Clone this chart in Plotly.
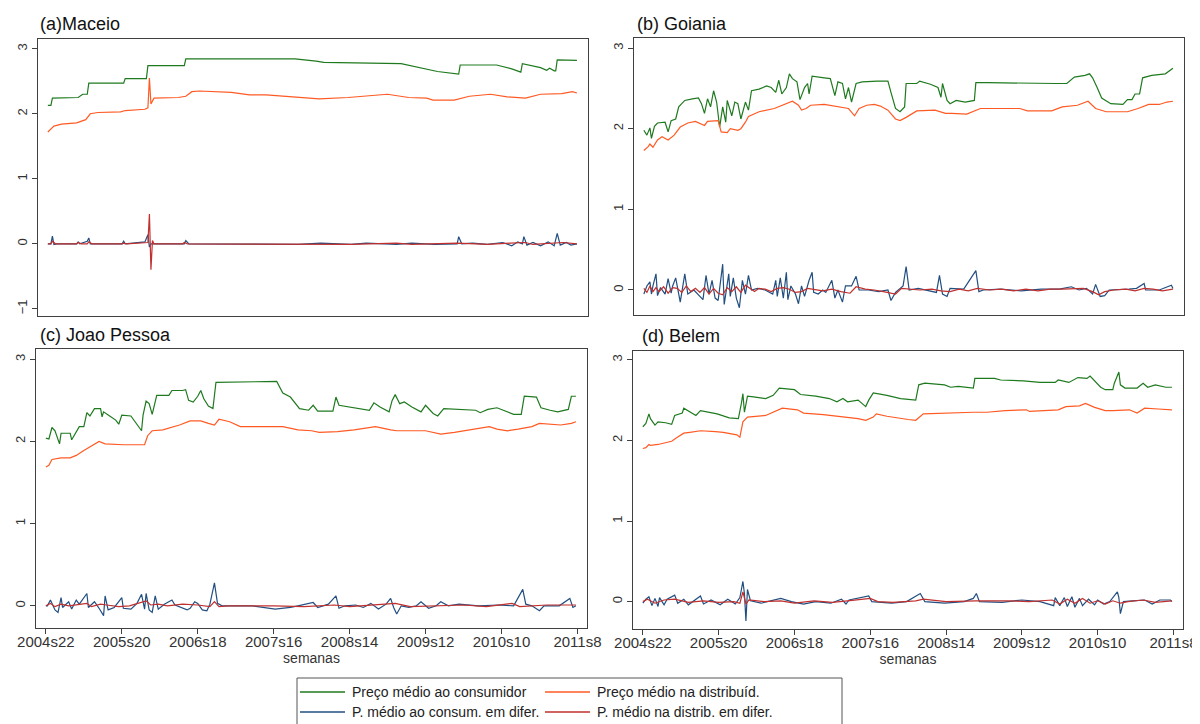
import plotly.graph_objects as go

# ---------------- data (week index 0 = 2004s22, 350 = 2011s8) ----------------
tick_weeks = [0, 50, 100, 150, 200, 250, 300, 350]
tick_labels = ["2004s22", "2005s20", "2006s18", "2007s16", "2008s14", "2009s12", "2010s10", "2011s8"]

# (a) Maceio
a_cons_w = [0, 2, 3, 20, 23, 26, 27, 50, 51, 65, 66, 90, 91, 163, 177, 182, 233, 257, 271, 272,
            296, 306, 312, 313, 325, 329, 331, 334, 335, 336, 349]
a_cons = [2.13, 2.13, 2.24, 2.25, 2.30, 2.30, 2.47, 2.47, 2.54, 2.54, 2.74, 2.74, 2.845, 2.845, 2.81, 2.79, 2.77, 2.65, 2.61, 2.75,
          2.75, 2.69, 2.64, 2.77, 2.71, 2.67, 2.70, 2.66, 2.66, 2.83, 2.82]
a_dist_w = [0, 4, 9, 19, 25, 28, 33, 48, 51, 64, 66, 67, 68, 70, 86, 91, 95, 100, 121, 133,
            144, 156, 163, 179, 198, 215, 224, 238, 250, 254, 268, 278, 292, 303, 315, 325, 339, 346, 349]
a_dist = [1.72, 1.81, 1.84, 1.86, 1.91, 2.00, 2.02, 2.03, 2.05, 2.07, 2.09, 2.55, 2.15, 2.24, 2.25, 2.27, 2.34, 2.35, 2.33, 2.29,
          2.29, 2.27, 2.26, 2.23, 2.25, 2.29, 2.30, 2.25, 2.24, 2.21, 2.21, 2.27, 2.30, 2.26, 2.24, 2.30, 2.31, 2.34, 2.32]
a_dcons_w = [0, 2, 3, 4, 6, 19, 20, 21, 26, 27, 28, 49, 50, 51, 64, 66, 67, 68, 90, 91,
             93, 165, 180, 200, 210, 230, 240, 255, 270, 271, 273, 280, 290, 300, 306, 310, 313, 314, 316, 320,
             325, 330, 334, 336, 338, 342, 345, 349]
a_dcons = [0, 0, 0.12, -0.01, 0, 0, 0.03, 0, 0.04, 0.09, 0, 0, 0.04, 0, 0.03, 0.14, -0.05, 0, 0, 0.05,
           0, -0.01, 0.01, -0.01, 0.01, -0.01, 0.01, -0.01, 0, 0.11, 0, 0.01, -0.01, 0.02, -0.03, 0.03, 0, 0.11, -0.02, 0.02,
           -0.03, 0.03, -0.03, 0.16, -0.02, 0.02, -0.02, 0]
a_ddist_w = [0, 2, 3, 5, 19, 20, 22, 26, 27, 29, 49, 50, 52, 64, 66, 67, 68, 69, 70, 89,
             90, 92, 200, 230, 240, 270, 290, 305, 315, 320, 330, 340, 349]
a_ddist = [0, 0, 0.04, 0, 0, 0.02, 0, 0, 0.03, 0, 0, 0.01, 0, 0.02, 0.02, 0.46, -0.40, 0.05, 0, 0,
           0.02, 0, -0.01, 0.01, -0.01, 0.01, -0.01, 0.01, 0.02, -0.01, 0.01, 0.02, 0]

# (b) Goiania
b_cons_w = [0, 2, 4, 5, 7, 9, 14, 16, 18, 21, 23, 27, 32, 36, 38, 40, 42, 44, 46, 48,
            50, 52, 54, 55, 58, 60, 62, 64, 67, 69, 71, 76, 81, 84, 87, 89, 91, 94, 96, 98,
            101, 103, 106, 108, 109, 111, 119, 123, 126, 128, 131, 133, 135, 137, 140, 144, 154, 161, 163, 166,
            169, 172, 173, 180, 182, 189, 194, 196, 197, 200, 202, 206, 212, 218, 219, 227, 272, 279, 284, 291,
            294, 296, 299, 302, 308, 316, 319, 322, 324, 327, 329, 335, 344, 349]
b_cons = [1.98, 1.92, 2.01, 1.88, 2.03, 2.07, 2.08, 1.96, 2.10, 2.12, 2.27, 2.35, 2.37, 2.38, 2.31, 2.19, 2.37, 2.27, 2.47, 2.33,
          2.02, 2.27, 2.08, 2.35, 2.16, 2.33, 2.31, 2.12, 2.33, 2.23, 2.47, 2.49, 2.53, 2.51, 2.45, 2.60, 2.43, 2.51, 2.68, 2.62,
          2.58, 2.36, 2.51, 2.56, 2.43, 2.65, 2.63, 2.62, 2.41, 2.58, 2.56, 2.37, 2.51, 2.33, 2.56, 2.58, 2.59, 2.59, 2.45, 2.25,
          2.21, 2.27, 2.56, 2.56, 2.59, 2.55, 2.51, 2.39, 2.56, 2.35, 2.31, 2.35, 2.33, 2.35, 2.57, 2.57, 2.56, 2.56, 2.64, 2.66,
          2.68, 2.63, 2.51, 2.38, 2.31, 2.30, 2.36, 2.36, 2.43, 2.43, 2.63, 2.66, 2.68, 2.75]
b_dist_w = [0, 3, 4, 6, 9, 12, 16, 20, 24, 29, 34, 40, 42, 49, 51, 55, 57, 62, 64, 67,
            69, 76, 86, 91, 95, 98, 102, 104, 107, 110, 119, 130, 135, 139, 142, 147, 152, 156, 161, 166,
            169, 173, 180, 192, 199, 203, 213, 222, 241, 248, 253, 269, 276, 286, 293, 298, 305, 319, 326, 333,
            340, 345, 349]
b_dist = [1.73, 1.78, 1.81, 1.77, 1.86, 1.90, 1.86, 1.92, 2.02, 2.07, 2.09, 2.04, 2.09, 2.10, 1.96, 1.95, 2.00, 1.98, 2.00, 2.08,
          2.15, 2.21, 2.25, 2.29, 2.32, 2.34, 2.29, 2.23, 2.25, 2.29, 2.30, 2.27, 2.25, 2.16, 2.25, 2.29, 2.30, 2.28, 2.23, 2.12,
          2.10, 2.14, 2.22, 2.23, 2.19, 2.19, 2.18, 2.25, 2.25, 2.25, 2.22, 2.22, 2.27, 2.29, 2.34, 2.25, 2.21, 2.21, 2.25, 2.30,
          2.30, 2.33, 2.34]
b_dcons_w = [0, 2, 4, 5, 6, 8, 9, 11, 14, 16, 18, 19, 21, 24, 27, 29, 33, 37, 39, 41,
             43, 45, 47, 49, 52, 53, 56, 57, 59, 61, 63, 65, 67, 69, 71, 75, 80, 85, 87, 88,
             90, 92, 94, 95, 97, 100, 102, 104, 106, 109, 111, 112, 115, 118, 120, 124, 126, 128, 131, 133,
             137, 140, 142, 148, 155, 161, 163, 166, 169, 171, 173, 175, 181, 186, 193, 195, 197, 200, 202, 211,
             219, 221, 224, 235, 249, 262, 274, 282, 287, 292, 296, 298, 301, 304, 307, 320, 325, 330, 331, 340,
             348, 349]
b_dcons = [-0.05, 0.05, 0.10, -0.05, 0.05, 0.20, -0.07, 0.03, -0.05, 0.14, -0.04, 0.05, 0.15, -0.15, 0.20, -0.05, 0.0, -0.08, -0.12, 0.18,
           -0.05, 0.12, -0.10, -0.13, 0.32, -0.18, 0.20, -0.08, 0.15, -0.10, -0.22, 0.12, -0.05, 0.18, 0.0, 0.02, 0.0, -0.05, 0.12, -0.08,
           0.15, -0.10, 0.22, -0.12, 0.05, -0.05, -0.17, 0.05, -0.08, 0.12, 0.22, -0.03, -0.05, 0.0, -0.03, 0.12, -0.10, 0.0, -0.15, 0.05,
           0.05, 0.17, 0.0, 0.0, -0.02, 0.0, -0.13, -0.03, 0.02, 0.05, 0.29, 0.0, 0.02, 0.0, -0.03, 0.18, -0.05, -0.08, 0.02, 0.01,
           0.24, -0.02, 0.0, 0.01, -0.01, 0.01, 0.01, 0.04, 0.0, 0.02, -0.05, 0.07, -0.08, -0.07, 0.0, 0.01, 0.02, 0.08, 0.0, 0.0,
           0.06, 0.02]
b_ddist_w = [0, 2, 4, 6, 8, 10, 13, 16, 19, 22, 25, 28, 31, 34, 37, 40, 43, 46, 49, 52,
             55, 58, 61, 64, 67, 70, 73, 76, 80, 84, 88, 92, 96, 100, 104, 108, 112, 118, 124, 130,
             136, 140, 146, 152, 158, 163, 166, 170, 176, 182, 190, 196, 202, 208, 214, 220, 228, 236, 244, 252,
             260, 268, 276, 284, 290, 296, 300, 304, 310, 318, 324, 330, 336, 342, 349]
b_ddist = [0.02, -0.03, 0.05, -0.02, 0.03, -0.02, 0.04, -0.04, 0.03, 0.02, -0.03, 0.05, -0.02, 0.02, -0.03, 0.03, -0.05, 0.02, -0.04, -0.06,
           0.03, -0.02, 0.04, -0.03, 0.06, 0.02, -0.02, 0.02, 0.01, -0.02, 0.02, 0.03, 0.01, -0.03, -0.02, 0.02, 0.01, -0.01, 0.01, -0.02,
           -0.04, 0.04, 0.01, 0.0, -0.02, -0.04, -0.05, 0.02, 0.01, 0.0, 0.01, -0.01, -0.02, 0.01, -0.01, 0.02, 0.0, 0.01, -0.01, 0.01,
           -0.01, 0.01, 0.01, 0.02, 0.02, -0.02, -0.06, -0.02, 0.0, 0.01, -0.01, 0.02, 0.01, -0.01, 0.01]

# (c) Joao Pessoa
c_cons_w = [0, 2, 4, 6, 9, 10, 16, 17, 22, 25, 27, 29, 32, 36, 37, 38, 42, 46, 48, 50,
            56, 60, 63, 64, 66, 68, 70, 73, 81, 83, 90, 92, 94, 97, 100, 102, 104, 107, 110, 112,
            133, 152, 156, 161, 167, 173, 176, 179, 189, 191, 193, 203, 213, 216, 220, 226, 228, 230, 233, 236,
            241, 247, 250, 255, 258, 262, 274, 283, 286, 291, 297, 302, 308, 313, 315, 323, 326, 332, 337, 344,
            346, 349]
c_cons = [2.04, 2.03, 2.17, 2.13, 1.97, 2.10, 2.10, 2.02, 2.18, 2.18, 2.35, 2.31, 2.40, 2.40, 2.30, 2.36, 2.31, 2.26, 2.21, 2.32,
          2.31, 2.20, 2.13, 2.32, 2.49, 2.46, 2.33, 2.56, 2.56, 2.62, 2.62, 2.63, 2.50, 2.48, 2.55, 2.62, 2.52, 2.43, 2.40, 2.72,
          2.73, 2.73, 2.59, 2.54, 2.40, 2.38, 2.44, 2.37, 2.37, 2.54, 2.44, 2.41, 2.38, 2.47, 2.42, 2.36, 2.50, 2.57, 2.46, 2.48,
          2.42, 2.36, 2.44, 2.34, 2.31, 2.40, 2.39, 2.38, 2.35, 2.39, 2.41, 2.37, 2.33, 2.33, 2.55, 2.54, 2.41, 2.38, 2.36, 2.39,
          2.55, 2.55]
c_dist_w = [0, 2, 4, 10, 16, 20, 25, 30, 35, 39, 51, 63, 65, 67, 70, 77, 81, 88, 95, 102,
            107, 111, 114, 121, 128, 138, 152, 156, 166, 175, 180, 192, 203, 217, 227, 231, 250, 260, 269, 278,
            292, 297, 304, 311, 320, 325, 339, 346, 349]
c_dist = [1.69, 1.71, 1.78, 1.80, 1.80, 1.83, 1.89, 1.95, 2.00, 1.97, 1.96, 1.96, 1.96, 2.07, 2.13, 2.14, 2.16, 2.20, 2.25, 2.25,
          2.22, 2.20, 2.27, 2.24, 2.18, 2.18, 2.18, 2.18, 2.14, 2.13, 2.11, 2.12, 2.14, 2.18, 2.14, 2.13, 2.13, 2.09, 2.11, 2.14,
          2.18, 2.15, 2.13, 2.15, 2.18, 2.22, 2.20, 2.22, 2.24]
c_dcons_w = [0, 1, 3, 6, 8, 10, 11, 15, 17, 20, 22, 27, 28, 32, 35, 38, 39, 41, 45, 48,
             50, 51, 56, 60, 63, 65, 66, 68, 70, 72, 74, 78, 83, 85, 93, 95, 98, 100, 103, 106,
             108, 111, 113, 116, 126, 136, 151, 156, 161, 166, 171, 176, 179, 186, 191, 193, 197, 204, 209, 214,
             219, 224, 227, 229, 231, 234, 239, 244, 247, 252, 257, 260, 265, 272, 285, 298, 308, 314, 316, 320,
             325, 328, 338, 345, 347, 349]
c_dcons = [0.0, 0.0, 0.07, -0.05, -0.08, 0.10, -0.02, 0.05, -0.04, 0.07, 0.02, 0.15, -0.02, 0.05, -0.03, -0.12, 0.12, -0.05, -0.02, 0.05,
           0.10, -0.03, -0.04, 0.03, 0.14, -0.04, 0.15, -0.05, -0.08, 0.12, -0.04, 0.02, 0.07, 0.01, -0.05, -0.03, 0.05, 0.03, -0.05, -0.06,
           0.02, 0.28, 0.03, 0.0, 0.0, 0.0, -0.04, -0.03, -0.02, 0.0, 0.02, 0.04, -0.02, 0.02, 0.12, -0.03, 0.0, 0.01, -0.02, 0.03,
           -0.04, 0.02, 0.09, -0.02, -0.10, 0.0, -0.02, 0.0, 0.05, -0.03, 0.0, 0.05, 0.0, 0.02, 0.0, 0.01, 0.0, 0.20, 0.02, 0.0,
           -0.06, 0.0, 0.0, 0.09, -0.02, 0.0]
c_ddist_w = [0, 3, 6, 10, 15, 20, 27, 30, 36, 40, 48, 55, 63, 66, 69, 74, 80, 90, 100, 108,
             111, 114, 120, 150, 170, 190, 200, 215, 230, 240, 260, 275, 290, 300, 307, 312, 320, 330, 349]
c_ddist = [0, 0.03, -0.01, 0.02, 0, 0.01, 0.03, -0.01, 0.02, 0.01, -0.01, 0, 0.04, 0.06, 0.01, 0.02, 0, 0.02, 0.01, -0.01,
           0.05, -0.01, 0, 0, -0.01, 0.01, -0.01, 0.01, 0.03, -0.01, 0, 0.01, -0.01, 0.01, 0.03, -0.01, 0, 0.01, 0.01]

# (d) Belem
d_cons_w = [0, 2, 4, 5, 8, 10, 15, 19, 21, 26, 27, 31, 35, 38, 43, 49, 57, 63, 65, 66,
            67, 69, 73, 81, 86, 90, 100, 104, 114, 123, 128, 132, 135, 142, 147, 149, 152, 161, 170, 180,
            182, 186, 199, 203, 208, 218, 219, 232, 236, 251, 262, 272, 274, 281, 287, 293, 295, 298, 302, 305,
            310, 311, 314, 315, 318, 326, 330, 333, 338, 345, 349]
d_cons = [2.17, 2.21, 2.33, 2.27, 2.19, 2.23, 2.22, 2.20, 2.31, 2.34, 2.40, 2.35, 2.31, 2.37, 2.35, 2.33, 2.28, 2.27, 2.46, 2.58,
          2.35, 2.55, 2.54, 2.52, 2.56, 2.65, 2.63, 2.57, 2.55, 2.52, 2.48, 2.52, 2.48, 2.50, 2.42, 2.50, 2.59, 2.56, 2.52, 2.50,
          2.69, 2.71, 2.69, 2.66, 2.67, 2.65, 2.77, 2.77, 2.75, 2.74, 2.72, 2.72, 2.75, 2.72, 2.78, 2.77, 2.80, 2.74, 2.66, 2.63,
          2.63, 2.71, 2.85, 2.69, 2.65, 2.65, 2.71, 2.66, 2.69, 2.66, 2.66]
d_dist_w = [0, 2, 4, 5, 10, 19, 22, 27, 31, 38, 48, 53, 62, 64, 66, 69, 81, 86, 92, 102,
            106, 119, 133, 142, 147, 152, 154, 161, 175, 180, 185, 199, 218, 227, 239, 253, 255, 274, 279, 288,
            292, 298, 305, 310, 321, 326, 331, 340, 349]
d_dist = [1.90, 1.91, 1.95, 1.94, 1.95, 1.99, 2.03, 2.09, 2.10, 2.12, 2.11, 2.10, 2.07, 2.04, 2.23, 2.29, 2.31, 2.35, 2.40, 2.38,
          2.34, 2.32, 2.29, 2.27, 2.25, 2.29, 2.33, 2.30, 2.26, 2.25, 2.33, 2.34, 2.35, 2.35, 2.37, 2.38, 2.36, 2.38, 2.42, 2.43,
          2.46, 2.41, 2.37, 2.37, 2.38, 2.34, 2.40, 2.39, 2.38]
d_dcons_w = [0, 2, 4, 6, 8, 10, 11, 14, 16, 21, 23, 27, 30, 34, 38, 40, 45, 51, 56, 61,
             64, 66, 67, 68, 69, 71, 78, 91, 98, 106, 114, 124, 131, 134, 136, 149, 151, 164, 174, 183,
             186, 199, 212, 218, 220, 222, 237, 250, 262, 271, 272, 275, 278, 280, 283, 285, 288, 290, 294, 298,
             300, 304, 308, 313, 314, 315, 317, 323, 331, 336, 341, 348, 349]
d_dcons = [-0.02, 0.03, 0.06, -0.05, 0.04, -0.06, 0.05, -0.04, 0.03, 0.08, -0.02, 0.03, -0.04, 0.02, 0.07, -0.03, 0.02, -0.04, 0.03, -0.03,
           0.05, 0.25, 0.10, -0.24, 0.15, 0.01, -0.02, 0.04, 0.0, -0.03, 0.0, -0.02, 0.03, -0.03, 0.02, 0.07, 0.0, -0.02, 0.0, 0.10,
           0.0, -0.02, 0.0, 0.04, 0.10, 0.0, -0.01, 0.02, 0.0, -0.05, 0.05, -0.05, 0.05, -0.06, 0.06, -0.07, 0.04, -0.05, 0.03, -0.04,
           0.02, -0.03, 0.0, 0.12, 0.05, -0.15, 0.0, 0.01, 0.02, -0.03, 0.02, 0.02, 0.0]
d_ddist_w = [0, 3, 8, 14, 21, 30, 40, 50, 60, 64, 66, 68, 70, 80, 91, 100, 113, 125, 135, 150,
             155, 165, 180, 185, 200, 220, 240, 255, 270, 275, 280, 285, 290, 295, 300, 305, 310, 315, 320, 330,
             338, 349]
d_ddist = [0, 0.03, -0.02, 0.02, 0.03, -0.01, 0.01, -0.01, 0, -0.02, 0.12, -0.03, 0.02, 0, 0.01, -0.02, 0.01, -0.01, 0.01, 0.04,
           0, -0.01, 0.01, 0.03, 0, 0.01, 0.01, 0, 0.02, -0.03, 0.03, -0.02, 0.04, -0.02, 0.01, -0.03, 0.01, -0.02, 0, 0.02,
           -0.01, 0.01]

panel_titles = ["(a)Maceio", "(b) Goiania", "(c) Joao Pessoa", "(d) Belem"]
series_names = ["Preço médio ao consumidor", "Preço médio na distribuíd.",
                "P. médio ao consum. em difer.", "P. médio na distrib. em difer."]

# ---------------- styling ----------------
COL_CONS = "#1f7a1f"
COL_DIST = "#ff5a24"
COL_DCONS = "#234f80"
COL_DDIST = "#c0302e"
colors = [COL_CONS, COL_DIST, COL_DCONS, COL_DDIST]
FONT = "Liberation Sans, Arial, sans-serif"
AXCOL = "#404040"

# the page body adds an 8px offset; the figure is sized to fit the window
OFF = 8
W, H = 1200 - OFF, 724 - OFF


def fx(px):
    return (px - OFF) / W


def fy(py):
    return 1 - (py - OFF) / H


# panel boxes in screen pixels: (left, right, top, bottom)
boxes = [(38, 588, 39, 316), (634, 1184, 38, 315), (36, 587, 349, 628), (633, 1183, 351, 629)]
yranges = [[-1.11, 3.15], [-0.31, 3.124], [-0.27, 3.125], [-0.34, 3.11]]
yticks = [[-1, 0, 1, 2, 3], [0, 1, 2, 3], [0, 1, 2, 3], [0, 1, 2, 3]]
title_pos = [(38, 24), (635, 24), (38, 335), (640, 336)]

panels = [
    (a_cons_w, a_cons, a_dist_w, a_dist, a_dcons_w, a_dcons, a_ddist_w, a_ddist),
    (b_cons_w, b_cons, b_dist_w, b_dist, b_dcons_w, b_dcons, b_ddist_w, b_ddist),
    (c_cons_w, c_cons, c_dist_w, c_dist, c_dcons_w, c_dcons, c_ddist_w, c_ddist),
    (d_cons_w, d_cons, d_dist_w, d_dist, d_dcons_w, d_dcons, d_ddist_w, d_ddist),
]

fig = go.Figure()
layout = dict(width=W, height=H, margin=dict(l=0, r=0, t=0, b=0, autoexpand=False),
              paper_bgcolor="white", plot_bgcolor="white", showlegend=False,
              font=dict(family=FONT, color="#222"))

annotations = []
shapes = []
for i, p in enumerate(panels):
    n = "" if i == 0 else str(i + 1)
    xa, ya = "x" + n, "y" + n
    for k in range(4):
        fig.add_trace(go.Scatter(x=p[2 * k], y=p[2 * k + 1], mode="lines", name=series_names[k],
                                 line=dict(color=colors[k], width=1.2), xaxis=xa, yaxis=ya,
                                 hoverinfo="skip", showlegend=False))
    l, r, t, b = boxes[i]
    bottom = i >= 2
    layout["xaxis" + n] = dict(
        domain=[fx(l), fx(r)], anchor=ya, range=[-6.5, 356.3], automargin=False,
        showline=True, mirror=True, linecolor=AXCOL, linewidth=1.3, showgrid=False, zeroline=False,
        tickvals=tick_weeks, ticktext=tick_labels, ticks="outside" if bottom else "",
        ticklen=5, tickcolor=AXCOL, showticklabels=bottom, ticklabelstandoff=-5,
        tickfont=dict(size=15, color="#333", family=FONT),
        title=dict(text="semanas" if bottom else "", font=dict(size=14, color="#333", family=FONT), standoff=4),
    )
    layout["yaxis" + n] = dict(
        domain=[fy(b), fy(t)], anchor=xa, range=yranges[i], automargin=False,
        showline=True, mirror=True, linecolor=AXCOL, linewidth=1.3, showgrid=False, zeroline=False,
        tickvals=yticks[i], ticks="outside", ticklen=5, tickcolor=AXCOL, tickangle=-90,
        tickfont=dict(size=13, color="#333", family=FONT),
    )
    tx, ty = title_pos[i]
    annotations.append(dict(text=panel_titles[i], x=fx(tx), y=fy(ty), xref="paper", yref="paper",
                             xanchor="left", yanchor="middle", showarrow=False,
                             font=dict(size=18, color="#111", family=FONT)))

# legend box drawn at bottom
lx0, lx1, ly0 = 297, 842, 678
shapes.append(dict(type="rect", xref="paper", yref="paper", x0=fx(lx0), x1=fx(lx1),
                   y0=-0.03, y1=fy(ly0), line=dict(color="#555", width=1), fillcolor="rgba(0,0,0,0)"))
leg_pos = [(300, 692), (545, 692), (300, 712), (545, 712)]
for k in range(4):
    px, py = leg_pos[k]
    shapes.append(dict(type="line", xref="paper", yref="paper", x0=fx(px), x1=fx(px + 45),
                       y0=fy(py), y1=fy(py), line=dict(color=colors[k], width=1.3)))
    annotations.append(dict(text=series_names[k], x=fx(px + 50), y=fy(py), xref="paper", yref="paper",
                            xanchor="left", yanchor="middle", showarrow=False,
                            font=dict(size=14, color="#222", family=FONT)))

layout["annotations"] = annotations
layout["shapes"] = shapes
fig.update_layout(**layout)
fig.write_html("out.html")
